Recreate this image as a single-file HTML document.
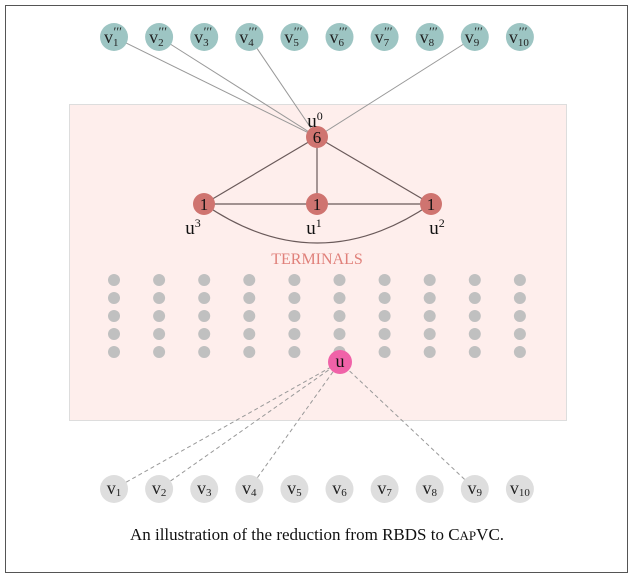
<!DOCTYPE html>
<html><head><meta charset="utf-8"><style>
body{margin:0;background:#fff}
svg{display:block}
text{font-family:"Liberation Serif",serif}
</style></head><body>
<svg width="635" height="582" viewBox="0 0 635 582">
<rect x="5.5" y="5.5" width="622" height="567" fill="#fff" stroke="#555"/>
<rect x="69.5" y="104.5" width="497" height="316" fill="#feeeec" stroke="#ddd"/>
<g id="edges"></g>
<g id="nodes"></g>
<text x="317" y="264" text-anchor="middle" font-size="16" fill="#e0807a">TERMINALS</text>
<text x="317" y="540" text-anchor="middle" font-size="17" fill="#111">An illustration of the reduction from RBDS to C<tspan font-size="13">AP</tspan>VC.</text>
</svg>
<script>
const vIndices=[1,2,3,4,5,6,7,8,9,10];
const topLinks=[1,2,4,9];
const bottomLinks=[1,2,4,9];
const weights=[6,1,1,1];
const ns="http://www.w3.org/2000/svg";
const E=document.getElementById('edges'),N=document.getElementById('nodes');
const vx=i=>114+(i-1)*45.1;
function mk(t,a,p){const e=document.createElementNS(ns,t);for(const k in a)e.setAttribute(k,a[k]);(p||N).appendChild(e);return e;}
const U0=[317,137],U=[340,362];
topLinks.forEach(i=>{const l=mk('line',{x1:vx(i),y1:37,x2:U0[0],y2:U0[1],stroke:'#999','stroke-width':1},E);

});
bottomLinks.forEach(i=>{const l=mk('line',{x1:vx(i),y1:489,x2:U[0],y2:U[1],stroke:'#999','stroke-width':1,'stroke-dasharray':'4,3'},E);

});
const us=[[317,137],[317,204],[431,204],[204,204]];
[[0,1],[0,2],[0,3],[1,2],[1,3]].forEach(([a,b])=>{const l=mk('line',{x1:us[a][0],y1:us[a][1],x2:us[b][0],y2:us[b][1],stroke:'#6a5a5a','stroke-width':1.2},E);

});
const c=mk('path',{d:'M204,204 Q317,282 431,204',fill:'none',stroke:'#6a5a5a','stroke-width':1.2},E);


vIndices.forEach(i=>{
 const g=mk('g',{});
 
 
 mk('circle',{cx:vx(i),cy:37,r:14,fill:'#9dc5c3'},g);
 const t=mk('text',{x:vx(i)-1,y:43,'text-anchor':'middle','font-size':18,fill:'#222'},g);
 t.innerHTML='v<tspan font-size="11" dy="3">'+i+'</tspan><tspan font-size="13" dx="-'+(i>9?10:5)+'" dy="-10">′′′</tspan>';
 const g2=mk('g',{});
 
 
 mk('circle',{cx:vx(i),cy:489,r:14,fill:'#dedede'},g2);
 const t2=mk('text',{x:vx(i),y:494,'text-anchor':'middle','font-size':18,fill:'#222'},g2);
 t2.innerHTML='v<tspan font-size="11" dy="2">'+i+'</tspan>';
 for(let r=0;r<5;r++){const d=mk('circle',{cx:vx(i),cy:280+r*18,r:6,fill:'#c0c0c0'});
 
 }
});
const ulab=[['0',318,127],['1',317,234],['2',440,234],['3',196,234]];
us.forEach((p,k)=>{const g=mk('g',{});
 
 
 mk('circle',{cx:p[0],cy:p[1],r:11,fill:'#cf7470'},g);
 mk('text',{x:p[0],y:p[1]+6,'text-anchor':'middle','font-size':17,fill:'#111'},g).textContent=weights[k];
 const t=mk('text',{x:ulab[k][1]-3,y:ulab[k][2],'text-anchor':'middle','font-size':19,fill:'#111'},g);
 t.innerHTML='u<tspan font-size="12" dy="-7">'+ulab[k][0]+'</tspan>';
});
const gu=mk('g',{});


mk('circle',{cx:U[0],cy:U[1],r:12,fill:'#f062a8'},gu);
mk('text',{x:U[0],y:U[1]+5,'text-anchor':'middle','font-size':18,fill:'#111'},gu).textContent='u';
</script>
</body></html>
